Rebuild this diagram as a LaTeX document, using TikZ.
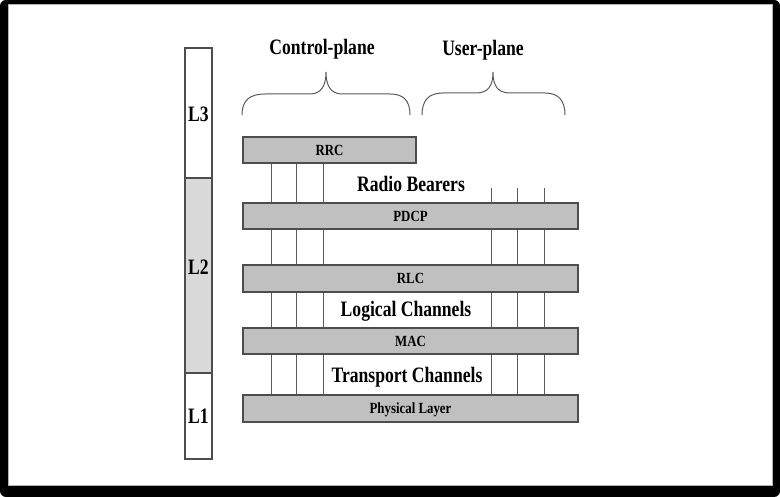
\documentclass[tikz,border=0pt]{standalone}
\usepackage{fontspec}
\setmainfont{Liberation Serif}
\usepackage{graphicx}
\usetikzlibrary{calc}
\newcommand\bigtxt[1]{\scalebox{0.8}[1]{\fontsize{22}{24}\selectfont\bfseries #1}}
\newcommand\smalltxt[1]{\scalebox{0.83}[1]{\fontsize{15.5}{17}\selectfont\bfseries #1}}
\definecolor{barfill}{HTML}{C0C0C0}
\definecolor{barline}{HTML}{4D4D4D}
\definecolor{lfill}{HTML}{D9D9D9}
\definecolor{connline}{HTML}{5A5A5A}
\pgfdeclarelayer{frame}
\pgfdeclarelayer{lines}
\pgfsetlayers{frame,lines,main}
\begin{document}
\begin{tikzpicture}[x=1pt,y=-1pt,
  bar/.style={draw=barline, line width=1.3pt, fill=barfill, rectangle, inner sep=0pt,
    minimum height=26pt, text height=10.2pt, text depth=0pt},
  lbox/.style={draw=barline, line width=1.1pt, rectangle, inner sep=0pt, minimum width=27pt},
  conn/.style={draw=connline, line width=0.9pt},
  brace/.style={draw=connline, line width=1pt},
  lbl/.style={anchor=base, inner sep=0pt}]
\useasboundingbox (0,0) rectangle (780,497);
\begin{pgfonlayer}{frame}
  \fill[black, rounded corners=6pt] (0,0) rectangle (780,497);
  \fill[white, draw=gray!60, line width=0.8pt] (8,4) rectangle (772,485);
\end{pgfonlayer}

% left column
\node[lbox, fill=white, minimum height=130pt] (l3) at (198.5,113) {};
\node[lbox, fill=lfill, minimum height=195pt] (l2) at (198.5,275.5) {};
\node[lbox, fill=white, minimum height=86pt] (l1) at (198.5,416) {};
\node[lbl] (l3t) at (198.5,122) {\bigtxt{L3}};
\node[lbl] (l2t) at (198.5,275) {\bigtxt{L2}};
\node[lbl] (l1t) at (198.5,423) {\bigtxt{L1}};

% bars
\node[bar, minimum width=173pt] (rrc) at (329.5,150) {\smalltxt{RRC}};
\node[bar, minimum width=335pt] (pdcp) at (410.5,216) {\smalltxt{PDCP}};
\node[bar, minimum width=335pt, minimum height=27pt] (rlc) at (410.5,278.5) {\smalltxt{RLC}};
\node[bar, minimum width=335pt] (mac) at (410.5,341) {\smalltxt{MAC}};
\node[bar, minimum width=335pt, minimum height=27pt] (phy) at (410.5,408.5) {\smalltxt{Physical Layer}};

% headings
\node[lbl] (cp) at (322,55) {\bigtxt{Control-plane}};
\node[lbl] (up) at (483,56) {\bigtxt{User-plane}};
\node[lbl] (rb) at (411,192) {\bigtxt{Radio Bearers}};
\node[lbl] (lc) at (406,317) {\bigtxt{Logical Channels}};
\node[lbl] (tc) at (407,383) {\bigtxt{Transport Channels}};

% braces
\draw[brace] (242,115) .. controls (242,100) and (250,94) .. (265,94) -- (310,94)
  .. controls (321,94) and (326,86) .. (326,72)
  .. controls (326,86) and (331,94) .. (342,94) -- (390,94)
  .. controls (403,94) and (410,100) .. (410,115);
\draw[brace] (422,115) .. controls (422,100) and (429,93) .. (443,93) -- (476,93)
  .. controls (488,93) and (493,86) .. (493,72)
  .. controls (493,86) and (498,93) .. (510,93) -- (545,93)
  .. controls (558,93) and (565,100) .. (565,115);

% channel lines
\coordinate (c1) at (271,0);
\coordinate (c2) at (296,0);
\coordinate (c3) at (323,0);
\coordinate (u1) at (491,188);
\coordinate (u2) at (517,188);
\coordinate (u3) at (544,188);
\begin{pgfonlayer}{lines}
\foreach \c in {c1,c2,c3}{
  \draw[conn] (rrc.south -| \c) -- (pdcp.north -| \c);
  \draw[conn] (pdcp.south -| \c) -- (rlc.north -| \c);
  \draw[conn] (rlc.south -| \c) -- (mac.north -| \c);
  \draw[conn] (mac.south -| \c) -- (phy.north -| \c);
}
\foreach \u in {u1,u2,u3}{
  \draw[conn] (\u) -- (pdcp.north -| \u);
  \draw[conn] (pdcp.south -| \u) -- (rlc.north -| \u);
  \draw[conn] (rlc.south -| \u) -- (mac.north -| \u);
  \draw[conn] (mac.south -| \u) -- (phy.north -| \u);
}
\end{pgfonlayer}
\end{tikzpicture}
\end{document}
